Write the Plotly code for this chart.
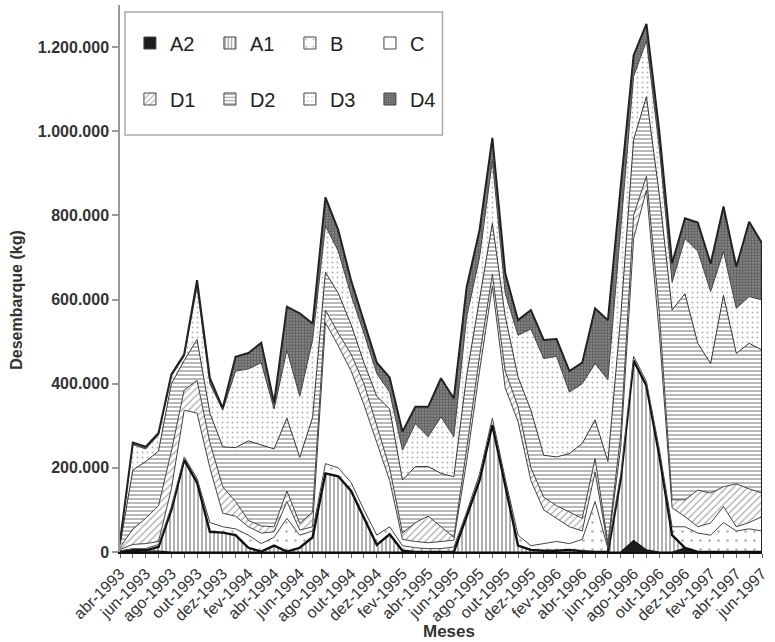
import plotly.graph_objects as go

# Monthly landings (kg) by category, abr-1993 .. jun-1997
meses = [
    "abr-1993", "mai-1993", "jun-1993", "jul-1993", "ago-1993", "set-1993",
    "out-1993", "nov-1993", "dez-1993", "jan-1994", "fev-1994", "mar-1994",
    "abr-1994", "mai-1994", "jun-1994", "jul-1994", "ago-1994", "set-1994",
    "out-1994", "nov-1994", "dez-1994", "jan-1995", "fev-1995", "mar-1995",
    "abr-1995", "mai-1995", "jun-1995", "jul-1995", "ago-1995", "set-1995",
    "out-1995", "nov-1995", "dez-1995", "jan-1996", "fev-1996", "mar-1996",
    "abr-1996", "mai-1996", "jun-1996", "jul-1996", "ago-1996", "set-1996",
    "out-1996", "nov-1996", "dez-1996", "jan-1997", "fev-1997", "mar-1997",
    "abr-1997", "mai-1997", "jun-1997",
]

A2 = [0, 3000, 2000, 2000, 0, 0, 0, 0, 0, 0, 0, 0, 0, 0, 0, 0, 0, 0, 0, 0,
      0, 0, 0, 0, 0, 0, 0, 0, 0, 0, 0, 0, 0, 0, 0, 0, 0, 0, 0, 0,
      27000, 5000, 0, 0, 9000, 0, 0, 0, 0, 0, 0]
A1 = [0, 2000, 2000, 10000, 100000, 219000, 165000, 48000, 46000, 40000,
      10000, 1000, 15000, 1000, 10000, 35000, 187000, 180000, 145000, 80000,
      17000, 42000, 3000, 0, 0, 0, 0, 85000, 170000, 302000,
      160000, 15000, 5000, 3000, 3000, 5000, 2000, 0, 0, 175000,
      428000, 390000, 230000, 40000, 1000, 0, 0, 0, 0, 0, 0]
B = [3000, 3000, 4000, 6000, 8000, 7000, 10000, 22000, 14000, 15000,
     30000, 19000, 20000, 79000, 30000, 15000, 23000, 20000, 20000, 20000,
     23000, 18000, 12000, 10000, 8000, 8000, 12000, 10000, 15000, 16000,
     15000, 25000, 10000, 17000, 22000, 15000, 28000, 120000, 8000, 10000,
     10000, 10000, 15000, 20000, 50000, 45000, 40000, 70000, 50000, 55000, 50000]
C = [3000, 10000, 12000, 7000, 42000, 111000, 155000, 130000, 32000, 30000,
     20000, 25000, 13000, 40000, 12000, 10000, 335000, 290000, 265000, 250000,
     220000, 110000, 15000, 15000, 14000, 17000, 16000, 120000, 245000, 314000,
     215000, 270000, 155000, 80000, 55000, 40000, 20000, 70000, 4000, 65000,
     280000, 455000, 275000, 45000, 24000, 15000, 29000, 38000, 10000, 15000, 34000]
D1 = [4000, 37000, 60000, 85000, 90000, 48000, 78000, 60000, 63000, 35000,
      15000, 17000, 12000, 25000, 16000, 35000, 30000, 30000, 40000, 50000,
      40000, 30000, 15000, 45000, 63000, 35000, 7000, 30000, 35000, 28000,
      40000, 35000, 30000, 30000, 30000, 35000, 30000, 32000, 8000, 30000,
      55000, 33000, 50000, 19000, 40000, 87000, 71000, 47000, 102000, 80000, 56000]
D2 = [6000, 140000, 135000, 130000, 160000, 70000, 97000, 70000, 95000, 128000,
      189000, 193000, 185000, 173000, 157000, 225000, 90000, 95000, 70000, 50000,
      70000, 140000, 126000, 133000, 118000, 127000, 144000, 175000, 135000, 121000,
      130000, 71000, 137000, 100000, 116000, 139000, 178000, 92000, 195000, 280000,
      180000, 189000, 280000, 451000, 490000, 349000, 308000, 455000, 310000, 346000, 340000]
D3 = [6000, 60000, 30000, 38000, 18000, 10000, 125000, 70000, 87000, 182000,
      171000, 195000, 95000, 162000, 145000, 184000, 110000, 100000, 70000, 70000,
      54000, 40000, 71000, 102000, 71000, 134000, 95000, 139000, 100000, 149000,
      55000, 99000, 193000, 230000, 239000, 146000, 142000, 134000, 194000, 220000,
      150000, 133000, 110000, 66000, 131000, 219000, 171000, 104000, 107000, 111000, 119000]
D4 = [3000, 5000, 5000, 5000, 4000, 5000, 16000, 13000, 5000, 34000,
      38000, 47000, 14000, 103000, 197000, 39000, 68000, 50000, 35000, 30000,
      26000, 35000, 44000, 40000, 71000, 92000, 91000, 71000, 65000, 54000,
      48000, 36000, 45000, 44000, 41000, 50000, 50000, 131000, 142000, 90000,
      50000, 40000, 40000, 45000, 48000, 68000, 66000, 107000, 99000, 178000, 135000]

y_ticks = [0, 200000, 400000, 600000, 800000, 1000000, 1200000]

x = list(range(len(meses)))

FONT = "Liberation Sans, Arial, sans-serif"

# name, values, fill colour, pattern, outline colour, outline width
series = [
    ("A2", A2, "#1c1c1c", None, "#111111", 1.2),
    ("A1", A1, "white", dict(shape="|", size=4, solidity=0.35, fgcolor="#222222", bgcolor="white"), "#111111", 2.4),
    ("B", B, "white", dict(shape=".", size=9, solidity=0.06, fgcolor="#555555", bgcolor="white"), "#444444", 1),
    ("C", C, "white", None, "#444444", 1),
    ("D1", D1, "white", dict(shape="/", size=5, solidity=0.25, fgcolor="#555555", bgcolor="white"), "#444444", 1),
    ("D2", D2, "white", dict(shape="-", size=4, solidity=0.35, fgcolor="#333333", bgcolor="white"), "#333333", 1),
    ("D3", D3, "white", dict(shape=".", size=5, solidity=0.12, fgcolor="#666666", bgcolor="white"), "#444444", 1),
    ("D4", D4, "#7f7f7f", dict(shape=".", size=3, solidity=0.45, fgcolor="#2e2e2e", bgcolor="#868686"), "#222222", 2),
]

fig = go.Figure()

for name, vals, fillc, pat, lc, lw in series:
    kw = dict(fillcolor=fillc)
    if pat is not None:
        kw["fillpattern"] = pat
    fig.add_trace(go.Scatter(
        x=x, y=vals, name=name, mode="lines", stackgroup="one",
        line=dict(color=lc, width=lw, shape="linear"),
        showlegend=False, hoverinfo="skip", **kw,
    ))

# legend swatches (two rows of four)
for k, (name, vals, fillc, pat, lc, lw) in enumerate(series):
    marker = dict(color=fillc, line=dict(color="#444444", width=1))
    if pat is not None:
        marker["pattern"] = dict(shape=pat["shape"], size=max(pat["size"], 3),
                                 solidity=pat["solidity"], fgcolor=pat["fgcolor"],
                                 bgcolor=pat["bgcolor"])
    fig.add_trace(go.Bar(
        x=[None], y=[None], name=name, marker=marker, showlegend=True,
        legend="legend" if k < 4 else "legend2",
    ))

# closing edge of the stacked area at the last month
total_last = sum(s[1][-1] for s in series)

plot_l, plot_r, plot_t, plot_b = 120, 767, 5, 552
W, H = 775, 642
pw, ph = plot_r - plot_l, plot_b - plot_t


def px(xp):
    return (xp - plot_l) / pw


def py(yp):
    return (plot_b - yp) / ph


legend_common = dict(
    orientation="h", xanchor="left", yanchor="middle",
    bgcolor="rgba(0,0,0,0)", borderwidth=0,
    font=dict(family=FONT, size=20, color="#222222"),
    entrywidth=35, entrywidthmode="pixels", itemwidth=30,
    traceorder="normal",
)

fig.update_layout(
    width=W, height=H,
    margin=dict(l=plot_l, r=W - plot_r, t=plot_t, b=H - plot_b),
    paper_bgcolor="white", plot_bgcolor="white",
    separators=",.",
    showlegend=True,
    legend=dict(x=px(130), y=py(43), **legend_common),
    legend2=dict(x=px(130), y=py(99), **legend_common),
    xaxis=dict(
        range=[0, len(meses) - 1], showgrid=False, zeroline=False,
        showline=True, linecolor="#111111", linewidth=2,
        ticks="outside", ticklen=4, tickcolor="#666666", tickwidth=1,
        tickvals=x, ticktext=[m if i % 2 == 0 else "" for i, m in enumerate(meses)],
        tickangle=-45,
        tickfont=dict(family=FONT, size=16, color="#333333"),
    ),
    yaxis=dict(
        range=[0, 1300000], showgrid=False, zeroline=False,
        showline=True, linecolor="#9a9a9a", linewidth=1.5,
        ticks="outside", ticklen=6, tickcolor="#9a9a9a", tickwidth=1.5,
        tickvals=y_ticks, tickformat=",d",
        tickfont=dict(family=FONT, size=16, color="#333333", weight="bold"),
    ),
    shapes=[
        dict(type="rect", xref="paper", yref="paper",
             x0=px(125), x1=px(445), y0=py(135), y1=py(12),
             line=dict(color="#aaaaaa", width=1.5), fillcolor="white", layer="below"),
        dict(type="line", xref="x", yref="y", x0=len(meses) - 1, x1=len(meses) - 1,
             y0=0, y1=total_last, line=dict(color="#222222", width=2)),
    ],
    annotations=[
        dict(text="Desembarque (kg)", xref="paper", yref="paper",
             x=px(15), y=py(300), xanchor="center", yanchor="middle",
             textangle=-90, showarrow=False,
             font=dict(family=FONT, size=16, color="#333333", weight="bold")),
        dict(text="Meses", xref="paper", yref="paper",
             x=px(452), y=py(631), xanchor="center", yanchor="middle",
             showarrow=False,
             font=dict(family=FONT, size=17, color="#333333", weight="bold")),
    ],
)

fig.write_html("out.html")
